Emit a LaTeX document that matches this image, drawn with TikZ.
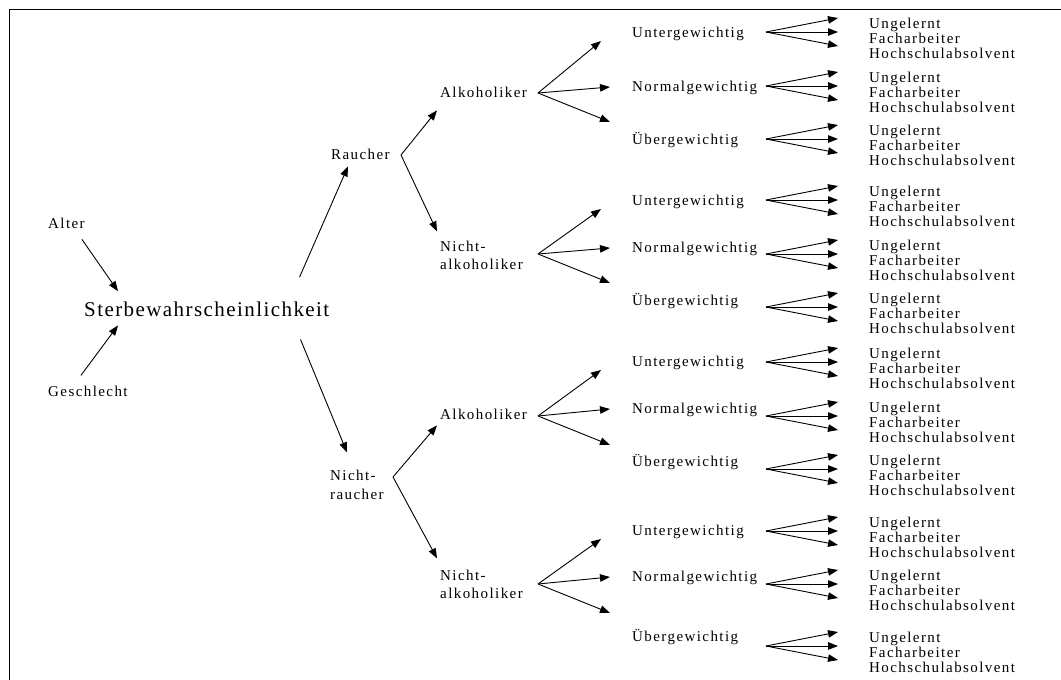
\documentclass[tikz,border=0pt]{standalone}
\usepackage{fontspec}
\setmainfont{Liberation Serif}
\newfontfamily\labelfont[LetterSpace=9.5]{Liberation Serif}
\newfontfamily\titlefont[LetterSpace=6.8]{Liberation Serif}
\usetikzlibrary{arrows.meta}
\tikzset{
  factorlabel/.style={inner sep=0pt, anchor=base west, align=left, font=\labelfont\fontsize{15}{18}\selectfont},
  edublock/.style={inner sep=0pt, anchor=base west, align=left, font=\labelfont\fontsize{15}{15}\selectfont},
  titlelabel/.style={inner sep=0pt, anchor=base west, font=\titlefont\fontsize{21}{24}\selectfont},
  arrow/.style={-{Triangle[length=10pt, width=7.5pt]}, line width=0.9pt},
  frameline/.style={line width=0.9pt}
}

\begin{document}
\begin{tikzpicture}[x=1pt, y=-1pt]
  \useasboundingbox (0,0) rectangle (1061,680);
  \draw[frameline] (9,680) -- (9,9) -- (1061,9);

  % Einflussgroessen
  \node[factorlabel] (alter) at (48,228) {Alter};
  \node[factorlabel] (geschl) at (48,396) {Geschlecht};
  \node[titlelabel] (sterbe) at (84,316) {Sterbewahrscheinlichkeit};
  \draw[arrow] ([shift={(-3,11)}]alter.south east) -- ([shift={(34,-10)}]sterbe.north west);
  \draw[arrow] ([shift={(-7,-10)}]geschl.north) -- ([shift={(34,9)}]sterbe.south west);

  % Rauchen (base = letzte Zeile)
  \node[factorlabel] (raucher) at (331,159) {Raucher};
  \node[factorlabel, font=\labelfont\fontsize{15}{19}\selectfont] (nraucher) at (330,499) {Nicht-\\raucher};
  \draw[arrow] ([shift={(-30,-24)}]sterbe.north east) -- ([shift={(17,7)}]raucher.south west);
  \draw[arrow] ([shift={(-29,23)}]sterbe.south east) -- ([shift={(17,-17)}]nraucher.north west);

  % Alkohol
  \node[factorlabel] (alk1) at (440,97) {Alkoholiker};
  \node[factorlabel] (nalk1) at (440,269) {Nicht-\\alkoholiker};
  \node[factorlabel] (alk2) at (440,419) {Alkoholiker};
  \node[factorlabel] (nalk2) at (440,598) {Nicht-\\alkoholiker};
  \coordinate (raucherfan) at (401,155);
  \coordinate (nrauchfan) at (393,477);
  \draw[arrow] (raucherfan) -- ([shift={(-3,13)}]alk1.south west);
  \draw[arrow] (raucherfan) -- ([shift={(-3,-9)}]nalk1.north west);
  \draw[arrow] (nrauchfan) -- ([shift={(-3,6)}]alk2.south west);
  \draw[arrow] (nrauchfan) -- ([shift={(-3,-11)}]nalk2.north west);

  % Gewicht und Ausbildung
  \foreach \i/\wname/\ly/\fy in {1/Untergewichtig/37/32, 2/Normalgewichtig/91/86, 3/Übergewichtig/144/139,
      4/Untergewichtig/205/200, 5/Normalgewichtig/252/254, 6/Übergewichtig/305/307,
      7/Untergewichtig/366/362, 8/Normalgewichtig/413/416, 9/Übergewichtig/466/469,
      10/Untergewichtig/535/531, 11/Normalgewichtig/581/584, 12/Übergewichtig/641/646}{
    \node[factorlabel] (w\i) at (632,\ly) {\wname};
    \node[edublock] (e\i) at (869,\fy+26) {Ungelernt\\Facharbeiter\\Hochschulabsolvent};
    \coordinate (o\i) at (766,\fy);
    \draw[arrow] (o\i) -- ([shift={(-31,-40)}]e\i.base west);
    \draw[arrow] (o\i) -- ([shift={(-31,-26)}]e\i.base west);
    \draw[arrow] (o\i) -- ([shift={(-31,-12)}]e\i.base west);
  }

  \foreach \src/\fy/\a/\b/\c in {alk1/93/1/2/3, nalk1/254/4/5/6, alk2/416/7/8/9, nalk2/584/10/11/12}{
    \coordinate (\src fan) at (538,\fy);
    \draw[arrow] (\src fan) -- ([shift={(-31,4)}]w\a.base west);
    \draw[arrow] (\src fan) -- ([shift={(-22,-4)}]w\b.base west);
    \draw[arrow] (\src fan) -- ++(72,29);
  }
\end{tikzpicture}
\end{document}
